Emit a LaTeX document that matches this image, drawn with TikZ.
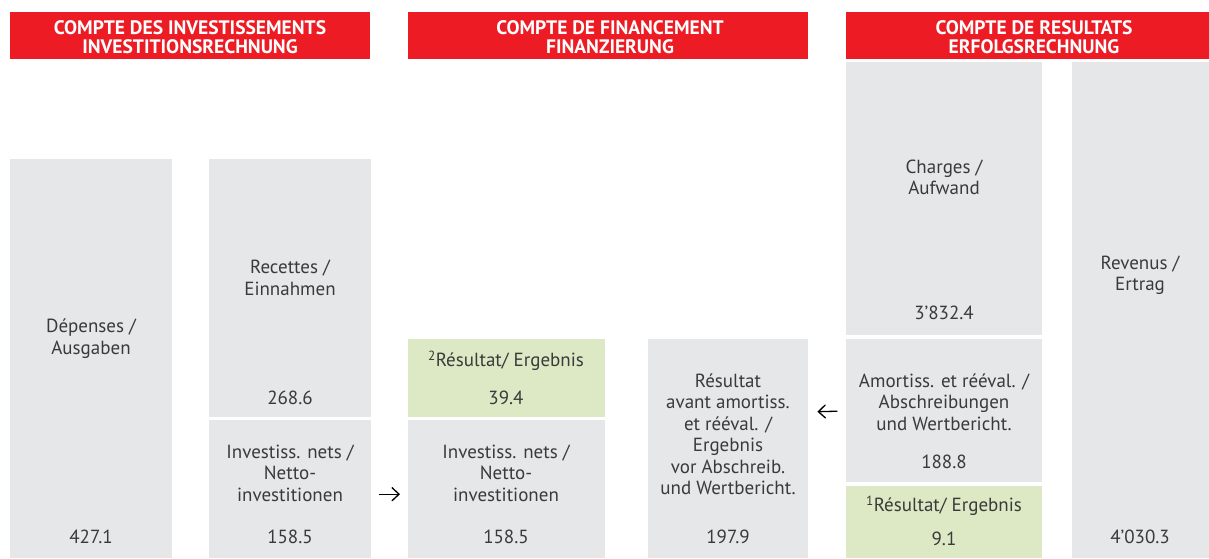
\documentclass[tikz,border=0pt]{standalone}
\usepackage{fontspec}
\setmainfont{PT Sans}
\usetikzlibrary{calc,arrows.meta}
\definecolor{hdred}{HTML}{ED1C24}
\definecolor{boxgray}{HTML}{E6E7E8}
\definecolor{boxgreen}{HTML}{DCE9C4}
\definecolor{txtgray}{HTML}{3A3A3A}
\begin{document}
\begin{tikzpicture}[x=1pt,y=-1pt,
  hdr/.style={fill=hdred,draw=none,anchor=north west,inner sep=0pt},
  hdrtxt/.style={text=white,font=\fontsize{19.5}{18.5}\selectfont\bfseries,align=center,inner sep=0pt},
  gbox/.style={fill=boxgray,draw=none,anchor=north west,inner sep=0pt},
  grbox/.style={fill=boxgreen,draw=none,anchor=north west,inner sep=0pt},
  lbl/.style={text=txtgray,font=\fontsize{19}{21.5}\selectfont,align=center,inner sep=0pt},
  arr/.style={draw=black,line width=1.3pt,line cap=round,-{Straight Barb[length=7pt,width=13pt,line join=miter,line cap=round]}}
]
\useasboundingbox (0,0) rectangle (1209,558);
% headers
\node[hdr,minimum width=360pt,minimum height=47pt] (h1) at (10,12) {};
\node[hdr,minimum width=400pt,minimum height=47pt] (h2) at (408,12) {};
\node[hdr,minimum width=363pt,minimum height=47pt] (h3) at (846,12) {};
\node[hdrtxt] (h1t) at (190,37) {COMPTE DES INVESTISSEMENTS\\INVESTITIONSRECHNUNG};
\node[hdrtxt] (h2t) at (610,37) {COMPTE DE FINANCEMENT\\FINANZIERUNG};
\node[hdrtxt] (h3t) at (1034,37) {COMPTE DE RESULTATS\\ERFOLGSRECHNUNG};
% boxes
\node[gbox,minimum width=162pt,minimum height=399pt] (dep) at (10,159) {};
\node[gbox,minimum width=162pt,minimum height=258pt] (rec) at (209,159) {};
\node[gbox,minimum width=162pt,minimum height=138pt] (inv1) at (209,420) {};
\node[grbox,minimum width=197pt,minimum height=78pt] (res2) at (408,339) {};
\node[gbox,minimum width=197pt,minimum height=138pt] (inv2) at (408,420) {};
\node[gbox,minimum width=160pt,minimum height=219pt] (rav) at (648,339) {};
\node[gbox,minimum width=196pt,minimum height=273pt] (chg) at (846,62) {};
\node[gbox,minimum width=196pt,minimum height=143pt] (amo) at (846,339) {};
\node[grbox,minimum width=196pt,minimum height=72pt] (res1) at (846,486) {};
\node[gbox,minimum width=137pt,minimum height=496pt] (rev) at (1072,62) {};
% labels
\node[lbl] (depl) at (91,338.5) {Dépenses /\\Ausgaben};
\node[lbl] (depn) at (91,537) {427.1};
\node[lbl] (recl) at (290,278) {Recettes /\\Einnahmen};
\node[lbl] (recn) at (290,398) {268.6};
\node[lbl] (inv1l) at (290,473) {Investiss. nets /\\Netto-\\investitionen};
\node[lbl] (inv1n) at (290,537) {158.5};
\node[lbl] (res2l) at (506,361) {\textsuperscript{2}Résultat/ Ergebnis};
\node[lbl] (res2n) at (506,398) {39.4};
\node[lbl] (inv2l) at (506,473) {Investiss. nets /\\Netto-\\investitionen};
\node[lbl] (inv2n) at (506,537) {158.5};
\node[lbl] (ravl) at (728,434.5) {Résultat\\avant amortiss.\\et rééval. /\\Ergebnis\\vor Abschreib.\\und Wertbericht.};
\node[lbl] (ravn) at (728,537) {197.9};
\node[lbl] (chgl) at (944,177.5) {Charges /\\Aufwand};
\node[lbl] (chgn) at (944,313) {3’832.4};
\node[lbl] (amol) at (944,402) {Amortiss. et rééval. /\\Abschreibungen\\und Wertbericht.};
\node[lbl] (amon) at (944,462) {188.8};
\node[lbl] (res1l) at (944,506) {\textsuperscript{1}Résultat/ Ergebnis};
\node[lbl] (res1n) at (944,539) {9.1};
\node[lbl] (revl) at (1140,275) {Revenus /\\Ertrag};
\node[lbl] (revn) at (1140,537) {4’030.3};
% arrows
\draw[arr] ($(inv1.east)+(8,5)$) -- ($(inv2.west)+(-8,5)$);
\draw[arr] ($(amo.west)+(-9,0.5)$) -- ($(rav.east)+(9,-37)$);
\end{tikzpicture}
\end{document}
